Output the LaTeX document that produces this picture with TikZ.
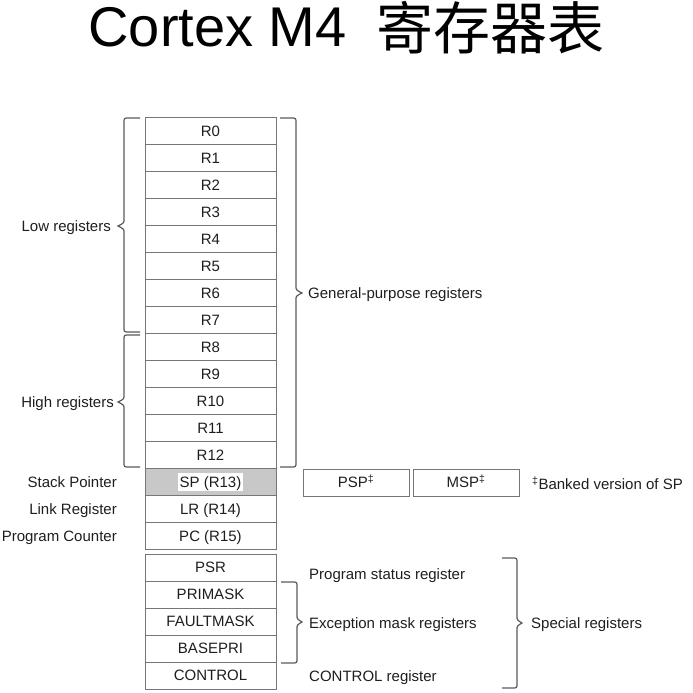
\documentclass[tikz,border=0pt]{standalone}
\usepackage{fontspec}
\setmainfont{Liberation Sans}
\newfontfamily\cjk{Noto Sans CJK SC}
\definecolor{boxline}{HTML}{767676}
\definecolor{spgray}{HTML}{C8C8C8}
\definecolor{bracecol}{HTML}{5A5A5A}
\definecolor{txt}{HTML}{1E1E1E}
\newcommand\mybrace[7]{% E V T y1 y2 ym dir
  \draw[bracestyle] (#1,#4) -- ({#2+#7*5},#4) .. controls (#2,#4) .. (#2,{#4+5})
    -- (#2,{#6-7}) .. controls (#2,{#6-3}) .. (#3,#6) .. controls (#2,{#6+3}) .. (#2,{#6+7})
    -- (#2,{#5-5}) .. controls (#2,#5) .. ({#2+#7*5},#5) -- (#1,#5);}
\begin{document}
\begin{tikzpicture}[x=1pt,y=-1pt,
  reg/.style={draw=boxline,line width=1pt,fill=white,minimum width=131pt,minimum height=27pt,inner sep=0pt,text height=10.7pt,text depth=0pt,text=txt,font=\fontsize{15}{17}\selectfont},
  lbl/.style={inner sep=0pt,text height=10.7pt,text depth=0pt,text=txt,font=\fontsize{15}{17}\selectfont},
  bracestyle/.style={draw=bracecol,line width=1.2pt}]
\useasboundingbox (0,0) rectangle (693,693);
\node[anchor=base east,inner sep=0pt] (title) at (347,47) {\fontsize{56}{60}\selectfont Cortex M4};
\node[anchor=base west,inner sep=0pt] (titlecn) at (376,49) {\cjk\fontsize{57}{60}\selectfont 寄存器表};
% general registers
\foreach \n [count=\i from 0] in {R0,R1,R2,R3,R4,R5,R6,R7,R8,R9,R10,R11,R12}
  \node[reg] (r\i) at (210.5,{131+27*\i}) {\n};
\node[reg,fill=spgray] (sp) at (210.5,482) {};
\node[fill=white,inner xsep=1.5pt,inner ysep=4pt,text height=10.7pt,text depth=0pt,text=txt,font=\fontsize{15}{17}\selectfont] (sptext) at (sp.center) {SP (R13)};
\node[reg] (lr) at (210.5,509) {LR (R14)};
\node[reg] (pc) at (210.5,536) {PC (R15)};
% special registers
\node[reg] (psr) at (210.5,567.5) {PSR};
\node[reg] (primask) at (210.5,594.5) {PRIMASK};
\node[reg] (faultmask) at (210.5,621.5) {FAULTMASK};
\node[reg] (basepri) at (210.5,648.5) {BASEPRI};
\node[reg] (control) at (210.5,675.5) {CONTROL};
% banked SP
\node[reg,minimum width=106pt] (psp) at (356,482.5) {PSP\textsuperscript{‡}};
\node[reg,minimum width=106pt] (msp) at (466,482.5) {MSP\textsuperscript{‡}};
\node[lbl,anchor=west] (banked) at (532,484) {\textsuperscript{‡}Banked version of SP};
% left labels
\node[lbl,anchor=east] (low) at (111,226) {Low registers};
\node[lbl,anchor=east] (high) at (114,402) {High registers};
\node[lbl,anchor=east] (stackp) at (117,482) {Stack Pointer};
\node[lbl,anchor=east] (linkr) at (117,509) {Link Register};
\node[lbl,anchor=east] (progc) at (117,536) {Program Counter};
% right labels
\node[lbl,anchor=west] (gp) at (308,293) {General-purpose registers};
\node[lbl,anchor=west] (psrl) at (309,574) {Program status register};
\node[lbl,anchor=west] (excl) at (309,623) {Exception mask registers};
\node[lbl,anchor=west] (ctrll) at (309,676) {CONTROL register};
\node[lbl,anchor=west] (spec) at (531,623) {Special registers};
% braces
\mybrace{140}{124}{118}{118}{332}{226}{1}
\mybrace{140}{124}{118}{335}{467}{402}{1}
\mybrace{280}{296}{302}{118}{467}{293}{-1}
\mybrace{281}{297}{302}{582}{663}{622}{-1}
\mybrace{502}{517}{522}{558}{688}{623}{-1}
\end{tikzpicture}
\end{document}
